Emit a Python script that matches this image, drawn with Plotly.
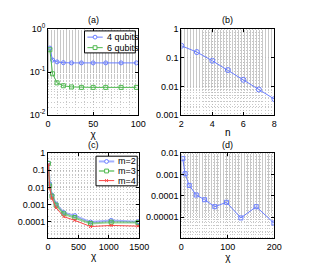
import plotly.graph_objects as go

# Panel (a)
chi_a = [2, 5, 10, 17, 26, 37, 50, 64, 81, 98]
q4 = [0.36, 0.19, 0.172, 0.165, 0.163, 0.163, 0.163, 0.163, 0.163, 0.163]
q6 = [0.33, 0.091, 0.056, 0.048, 0.045, 0.044, 0.044, 0.044, 0.044, 0.044]

# Panel (b)
n_b = [2, 3, 4, 5, 6, 7, 8]
err_b = [0.26, 0.157, 0.078, 0.037, 0.017, 0.0078, 0.0036]

# Panel (c)
chi_c = [5, 26, 64, 132, 260, 440, 700, 1040, 1480]
m2 = [0.27, 0.016, 0.0035, 0.00105, 0.00033, 0.00022, 0.000091, 0.000115, 0.000096]
m3 = [0.25, 0.012, 0.003, 0.0009, 0.00028, 0.00017, 0.000076, 0.00009, 0.000085]
m4 = [0.22, 0.009, 0.0022, 0.00063, 0.00019, 0.000115, 0.00005, 0.000058, 0.000053]

# Panel (d)
chi_d = [3, 8, 17, 32, 50, 72, 97, 128, 161, 199]
err_d = [0.0056, 0.0011, 0.00031, 0.00011, 0.000066, 0.000031, 0.00005, 0.0000092, 0.000031, 0.0000053]

legend_a = ["4 qubits", "6 qubits"]
legend_c = ["m=2", "m=3", "m=4"]

BLUE = "rgb(105,125,255)"
GREEN = "rgb(80,185,80)"
RED = "rgb(250,70,70)"
BLUE_T = "rgba(105,125,255,0.6)"
GREEN_T = "rgba(80,185,80,0.6)"
FONT = "Liberation Sans, Arial, sans-serif"

W, H = 316, 275
def dx(a, b):
    return [a / W, b / W]
def dy(top, bot):
    return [1 - bot / H, 1 - top / H]

fig = go.Figure()

fig.add_trace(go.Scatter(x=chi_a, y=q4, name=legend_a[0], mode="lines+markers",
                         line=dict(color=BLUE, width=1),
                         marker=dict(symbol="circle-open", size=4, color=BLUE),
                         xaxis="x", yaxis="y", showlegend=False))
fig.add_trace(go.Scatter(x=chi_a, y=q6, name=legend_a[1], mode="lines+markers",
                         line=dict(color=GREEN, width=1),
                         marker=dict(symbol="square-open", size=4, color=GREEN),
                         xaxis="x", yaxis="y", showlegend=False))
fig.add_trace(go.Scatter(x=n_b, y=err_b, mode="lines+markers", showlegend=False,
                         line=dict(color=BLUE, width=1),
                         marker=dict(symbol="circle-open", size=5, color=BLUE),
                         xaxis="x2", yaxis="y2"))
fig.add_trace(go.Scatter(x=chi_c, y=m2, name=legend_c[0], mode="lines+markers",
                         line=dict(color=BLUE_T, width=2),
                         marker=dict(symbol="circle-open", size=4, color=BLUE),
                         xaxis="x3", yaxis="y3", showlegend=False))
fig.add_trace(go.Scatter(x=chi_c, y=m3, name=legend_c[1], mode="lines+markers",
                         line=dict(color=GREEN_T, width=2),
                         marker=dict(symbol="square-open", size=4, color=GREEN),
                         xaxis="x3", yaxis="y3", showlegend=False))
fig.add_trace(go.Scatter(x=chi_c, y=m4, name=legend_c[2], mode="lines+markers",
                         line=dict(color=RED, width=1),
                         marker=dict(symbol="x-thin-open", size=3, color=RED, line=dict(width=1, color=RED)),
                         xaxis="x3", yaxis="y3", showlegend=False))
fig.add_trace(go.Scatter(x=chi_d, y=err_d, mode="lines+markers", showlegend=False,
                         line=dict(color=BLUE, width=1),
                         marker=dict(symbol="square-open", size=4, color=BLUE),
                         xaxis="x4", yaxis="y4"))

DASH = "1px,2px"
common = dict(showline=True, linecolor="black", linewidth=1, mirror="ticks",
              ticks="inside", ticklen=3, tickcolor="black",
              showgrid=True, gridcolor="rgb(185,185,185)", griddash=DASH, gridwidth=1,
              zeroline=False, tickfont=dict(size=9, color="black", family=FONT))
minor = dict(showgrid=True, gridcolor="rgb(200,200,200)", griddash=DASH, ticks="")
ttl = dict(size=10, family=FONT, color="black")

fig.update_layout(
    width=W, height=H, margin=dict(l=0, r=0, t=0, b=0),
    paper_bgcolor="white", plot_bgcolor="white",
    font=dict(family=FONT, size=9, color="black"),
    showlegend=False,
    xaxis=dict(domain=dx(47, 141), range=[0, 100], tickvals=[0, 50, 100],
               minor=dict(dtick=10, **minor), anchor="y",
               title=dict(text="χ", standoff=1, font=ttl), **common),
    yaxis=dict(domain=dy(23, 113), type="log", range=[-2, 0],
               tickvals=[0.01, 0.1, 1], ticktext=["10<sup>-2</sup>", "10<sup>-1</sup>", "10<sup>0</sup>"],
               minor=dict(**minor), anchor="x", **common),
    xaxis2=dict(domain=dx(186, 283), range=[2, 8], tickvals=[2, 4, 6, 8],
                minor=dict(dtick=0.2, **minor), anchor="y2",
                title=dict(text="n", standoff=1, font=ttl), **common),
    yaxis2=dict(domain=dy(23, 113), type="log", range=[-3, 0],
                tickvals=[0.001, 0.01, 0.1, 1], ticktext=["0.001", "0.01", "0.1", "1"],
                minor=dict(**minor), anchor="x2", **common),
    xaxis3=dict(domain=dx(47, 142), range=[0, 1500], tickvals=[0, 500, 1000, 1500],
                minor=dict(dtick=50, **minor), anchor="y3",
                title=dict(text="χ", standoff=1, font=ttl), **common),
    yaxis3=dict(domain=dy(153, 242), type="log", range=[-5, 0],
                tickvals=[0.0001, 0.001, 0.01, 0.1, 1], ticktext=["0.0001", "0.001", "0.01", "0.1", "1"],
                minor=dict(**minor), anchor="x3", **common),
    xaxis4=dict(domain=dx(186, 283), range=[0, 200], tickvals=[0, 100, 200],
                minor=dict(dtick=5, **minor), anchor="y4",
                title=dict(text="χ", standoff=1, font=ttl), **common),
    yaxis4=dict(domain=dy(153, 242), type="log", range=[-6, -2],
                tickvals=[0.00001, 0.0001, 0.001, 0.01], ticktext=["0.00001", "0.0001", "0.001", "0.01"],
                minor=dict(**minor), anchor="x4", **common),
)

# panel titles
for txt, cx, ty in [("(a)", 94, 14), ("(b)", 234.5, 14), ("(c)", 94.5, 144), ("(d)", 234.5, 144)]:
    fig.add_annotation(text=txt, x=cx / W, y=1 - ty / H, xref="paper", yref="paper",
                       showarrow=False, font=dict(size=9, family=FONT, color="black"),
                       xanchor="center", yanchor="middle")

# compact legend boxes (drawn in paper coordinates)
def px_x(v):
    return v / W
def px_y(v):
    return 1 - v / H

def legend_box(x0, y0, x1, y1, entries, ys):
    fig.add_shape(type="rect", xref="paper", yref="paper",
                  x0=px_x(x0), x1=px_x(x1), y0=px_y(y0), y1=px_y(y1),
                  line=dict(color="black", width=1), fillcolor="white", layer="above")
    for (label, lcol, lw, mcol, sym), yy in zip(entries, ys):
        sx0, sx1 = x0 + 3, x0 + 19
        fig.add_shape(type="line", xref="paper", yref="paper",
                      x0=px_x(sx0), x1=px_x(sx1), y0=px_y(yy), y1=px_y(yy),
                      line=dict(color=lcol, width=lw), layer="above")
        cx = (sx0 + sx1) / 2
        r = 2
        if sym == "circle":
            fig.add_shape(type="circle", xref="paper", yref="paper",
                          x0=px_x(cx - r), x1=px_x(cx + r), y0=px_y(yy + r), y1=px_y(yy - r),
                          line=dict(color=mcol, width=1), fillcolor="white", layer="above")
        elif sym == "square":
            fig.add_shape(type="rect", xref="paper", yref="paper",
                          x0=px_x(cx - r), x1=px_x(cx + r), y0=px_y(yy + r), y1=px_y(yy - r),
                          line=dict(color=mcol, width=1), fillcolor="white", layer="above")
        else:
            for a, b in [((cx - 1.5, yy - 1.5), (cx + 1.5, yy + 1.5)), ((cx - 1.5, yy + 1.5), (cx + 1.5, yy - 1.5))]:
                fig.add_shape(type="line", xref="paper", yref="paper",
                              x0=px_x(a[0]), y0=px_y(a[1]), x1=px_x(b[0]), y1=px_y(b[1]),
                              line=dict(color=mcol, width=1), layer="above")
        fig.add_annotation(text=label, x=px_x(sx1 + 2), y=px_y(yy), xref="paper", yref="paper",
                           showarrow=False, xanchor="left", yanchor="middle",
                           font=dict(size=9, family=FONT, color="black"))

legend_box(85, 25, 138, 48,
           [(legend_a[0], BLUE, 1, BLUE, "circle"), (legend_a[1], GREEN, 1, GREEN, "square")],
           [31.5, 42.5])
legend_box(97, 156, 140, 187,
           [(legend_c[0], BLUE_T, 2, BLUE, "circle"), (legend_c[1], GREEN_T, 2, GREEN, "square"),
            (legend_c[2], RED, 1, RED, "x")],
           [161.5, 171.5, 181.5])

fig.write_html("out.html", config={"displayModeBar": False},
               post_script="document.body.style.margin='0';document.body.style.padding='0';")
